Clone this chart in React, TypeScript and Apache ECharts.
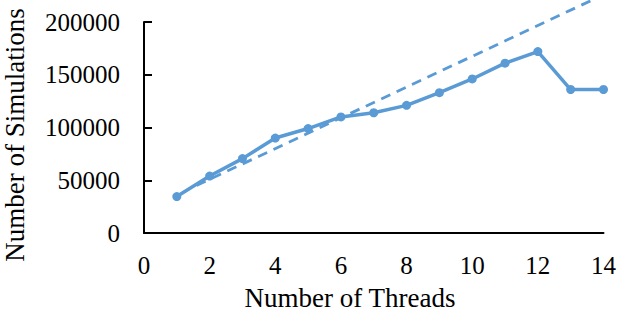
import React, { useEffect, useRef } from "react";
import * as echarts from "echarts";

const threads = [1, 2, 3, 4, 5, 6, 7, 8, 9, 10, 11, 12, 13, 14];
const simulations = [34500, 54000, 70500, 90000, 99000, 110000, 114000, 121000, 133000, 146000, 161000, 172000, 136000, 136000];
const trendX = [1.6, 13.6];
const trendY = [45000, 220000];
const xTicks = [0, 2, 4, 6, 8, 10, 12, 14];
const yTicks = [0, 50000, 100000, 150000, 200000];

const FONT = "'Liberation Serif', 'Times New Roman', serif";
const BLUE = "#5B9BD5";

export default function App() {
  const ref = useRef<HTMLDivElement>(null);
  useEffect(() => {
    if (!ref.current) return;
    const chart = echarts.init(ref.current, undefined, { renderer: "svg" });
    chart.setOption({
      animation: false,
      grid: { left: 144, right: 13, top: 22, bottom: 85 },
      xAxis: {
        type: "value",
        min: xTicks[0],
        max: xTicks[xTicks.length - 1],
        interval: 2,
        axisLine: { show: true, lineStyle: { color: "#000", width: 2 } },
        axisTick: { show: false },
        splitLine: { show: false },
        axisLabel: { color: "#000", fontFamily: FONT, fontSize: 25, margin: 20 },
      },
      yAxis: {
        type: "value",
        min: yTicks[0],
        max: yTicks[yTicks.length - 1],
        interval: 50000,
        axisLine: { show: true, lineStyle: { color: "#000", width: 2 } },
        axisTick: { show: true, inside: true, length: 8, lineStyle: { color: "#000", width: 2 } },
        splitLine: { show: false },
        axisLabel: {
          color: "#000",
          fontFamily: FONT,
          fontSize: 25,
          margin: 24,
          formatter: (v: number) => String(v),
        },
      },
      series: [
        {
          type: "line",
          data: trendX.map((x, i) => [x, trendY[i]]),
          showSymbol: false,
          clip: false,
          lineStyle: { color: BLUE, width: 2.8, type: [10, 7] },
          z: 1,
        },
        {
          type: "line",
          data: threads.map((t, i) => [t, simulations[i]]),
          symbol: "circle",
          symbolSize: 9,
          itemStyle: { color: BLUE },
          lineStyle: { color: BLUE, width: 3.5 },
          z: 2,
        },
      ],
      graphic: [
        {
          type: "text",
          x: 350,
          y: 298,
          style: {
            text: "Number of Threads",
            font: `27px ${FONT}`,
            fill: "#000",
            align: "center",
            verticalAlign: "middle",
          },
        },
        {
          type: "text",
          x: 15,
          y: 135,
          rotation: Math.PI / 2,
          style: {
            text: "Number of Simulations",
            font: `27px ${FONT}`,
            fill: "#000",
            align: "center",
            verticalAlign: "middle",
          },
        },
      ],
    });
    return () => chart.dispose();
  }, []);
  return <div ref={ref} style={{ width: 619, height: 318, position: "absolute", left: 0, top: 0 }} />;
}
